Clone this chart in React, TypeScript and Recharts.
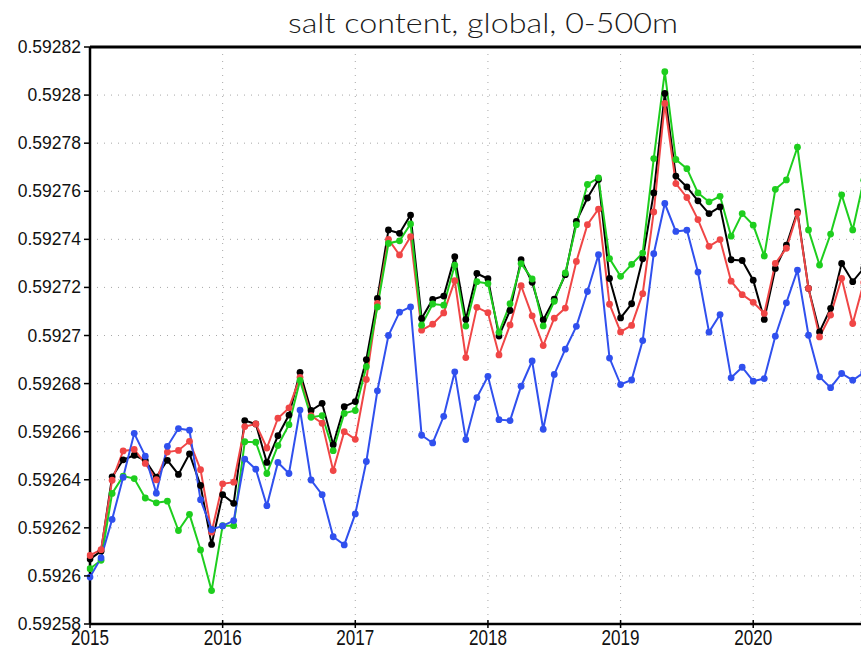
import React from 'react';
import { LineChart, Line, XAxis, YAxis, CartesianGrid, ReferenceLine } from 'recharts';

// Monthly values, Jan 2015 onwards (salt content, global, 0-500m)
const blackSeries = [
  0.592607, 0.5926103, 0.5926412, 0.5926483, 0.5926502, 0.5926481, 0.5926411, 0.5926481, 0.5926422, 0.5926508, 0.5926376, 0.5926131,
  0.5926338, 0.5926302, 0.5926646, 0.5926632, 0.5926472, 0.5926583, 0.5926669, 0.5926847, 0.5926688, 0.5926718, 0.5926546, 0.5926704,
  0.5926725, 0.59269, 0.5927154, 0.5927439, 0.5927425, 0.5927501, 0.5927071, 0.592715, 0.5927164, 0.5927328, 0.5927067, 0.5927258,
  0.5927236, 0.5926998, 0.5927104, 0.5927315, 0.5927221, 0.5927065, 0.5927151, 0.5927253, 0.5927475, 0.5927572, 0.5927649, 0.5927237,
  0.5927073, 0.5927132, 0.5927319, 0.5927593, 0.5928007, 0.5927663, 0.5927618, 0.592756, 0.5927507, 0.5927535, 0.5927315, 0.5927312,
  0.592723, 0.5927067, 0.5927279, 0.5927376, 0.5927515, 0.5927196, 0.5927015, 0.5927113, 0.59273, 0.5927224, 0.592728,
];
const redSeries = [
  0.5926085, 0.5926109, 0.5926398, 0.592652, 0.5926526, 0.5926468, 0.59264, 0.5926515, 0.5926522, 0.592656, 0.5926442, 0.5926182,
  0.5926383, 0.592639, 0.5926621, 0.5926632, 0.5926532, 0.5926656, 0.5926699, 0.5926826, 0.5926667, 0.5926635, 0.5926438, 0.59266,
  0.5926568, 0.5926817, 0.5927133, 0.59274, 0.5927335, 0.5927411, 0.5927022, 0.5927047, 0.5927094, 0.5927228, 0.5926908, 0.5927117,
  0.5927095, 0.5926919, 0.5927044, 0.5927207, 0.5927082, 0.5926958, 0.5927072, 0.5927114, 0.5927308, 0.5927461, 0.5927526, 0.592713,
  0.5927015, 0.5927042, 0.5927174, 0.5927514, 0.5927965, 0.5927632, 0.5927574, 0.5927482, 0.5927371, 0.5927399, 0.5927226, 0.592717,
  0.5927138, 0.5927092, 0.59273, 0.5927363, 0.5927508, 0.5927196, 0.5926994, 0.5927085, 0.5927238, 0.592705, 0.592722,
];
const greenSeries = [
  0.592603, 0.5926065, 0.5926343, 0.5926415, 0.5926405, 0.5926324, 0.5926304, 0.5926311, 0.5926189, 0.5926256, 0.5926108, 0.5925939,
  0.5926209, 0.5926209, 0.5926558, 0.5926556, 0.5926426, 0.5926542, 0.5926629, 0.5926813, 0.592666, 0.5926667, 0.5926521, 0.5926676,
  0.5926688, 0.592687, 0.5927119, 0.5927383, 0.5927394, 0.5927464, 0.5927043, 0.5927131, 0.5927126, 0.5927293, 0.5927039, 0.5927224,
  0.5927216, 0.5927013, 0.5927132, 0.5927299, 0.5927235, 0.592704, 0.5927142, 0.592726, 0.5927461, 0.5927628, 0.5927656, 0.592732,
  0.5927246, 0.5927296, 0.5927343, 0.5927736, 0.5928097, 0.5927732, 0.5927694, 0.5927593, 0.5927556, 0.5927579, 0.5927413, 0.5927507,
  0.5927459, 0.5927331, 0.5927608, 0.5927647, 0.5927783, 0.5927439, 0.5927293, 0.5927422, 0.5927585, 0.5927439, 0.5927646,
];
const blueSeries = [
  0.5925995, 0.5926075, 0.5926235, 0.592641, 0.5926593, 0.5926498, 0.5926344, 0.5926539, 0.5926613, 0.5926606, 0.5926317, 0.5926193,
  0.5926208, 0.592623, 0.5926486, 0.5926444, 0.5926292, 0.5926472, 0.5926426, 0.592669, 0.5926399, 0.5926338, 0.5926163, 0.5926129,
  0.5926258, 0.5926476, 0.592677, 0.5927, 0.5927097, 0.5927119, 0.5926585, 0.5926553, 0.5926664, 0.5926849, 0.5926567, 0.5926742,
  0.592683, 0.592665, 0.5926646, 0.5926789, 0.5926894, 0.592661, 0.5926838, 0.5926943, 0.5927038, 0.5927183, 0.5927336, 0.5926906,
  0.5926796, 0.5926815, 0.5926979, 0.592734, 0.5927549, 0.5927433, 0.5927438, 0.5927264, 0.5927014, 0.5927087, 0.5926824, 0.5926868,
  0.592681, 0.5926821, 0.5926997, 0.5927136, 0.5927272, 0.5927001, 0.5926828, 0.5926783, 0.5926842, 0.5926814, 0.5926846,
];

const yearLabels = ['2015', '2016', '2017', '2018', '2019', '2020'];
const yTicks = [0.59258, 0.5926, 0.59262, 0.59264, 0.59266, 0.59268, 0.5927, 0.59272, 0.59274, 0.59276, 0.59278, 0.5928, 0.59282];
const titleText = 'salt content, global, 0-500m';

const COLORS = { black: '#000000', red: '#f04646', green: '#1ece1e', blue: '#3050ee' };

const data = blackSeries.map((v, i) => ({
  t: i,
  black: v,
  red: redSeries[i],
  green: greenSeries[i],
  blue: blueSeries[i],
}));

const xTickValues = yearLabels.map((_, k) => k * 12);

const XTick = (props: any) => {
  const { x, y, payload } = props;
  const idx = Math.round(payload.value / 12);
  return (
    <g>
      <line x1={x} x2={x} y1={y - 4} y2={y + 4} stroke="#000" strokeWidth={1.5} />
      <text
        x={x}
        y={y + 20.5}
        textAnchor="middle"
        fontFamily="Liberation Sans, Arial, sans-serif"
        fontSize={22}
        textLength={38}
        lengthAdjust="spacingAndGlyphs"
        fill="#111"
      >
        {yearLabels[idx]}
      </text>
    </g>
  );
};

const YTick = (props: any) => {
  const { x, y, payload } = props;
  const label = parseFloat(Number(payload.value).toFixed(5)).toString();
  return (
    <g>
      <line x1={x - 6} x2={x} y1={y} y2={y} stroke="#000" strokeWidth={1.5} />
      <text
        x={x - 9}
        y={y + 6}
        textAnchor="end"
        fontFamily="Liberation Sans, Arial, sans-serif"
        fontSize={17.5}
        fill="#111"
      >
        {label}
      </text>
    </g>
  );
};

const dotStyle = (c: string) => ({ r: 3.4, fill: c, stroke: c, strokeWidth: 0, clipDot: false });

export default function App() {
  return (
    <div style={{ position: 'absolute', left: 0, top: 0, width: 861, height: 649, overflow: 'hidden', background: '#fff' }}>
      <LineChart width={861} height={649} data={data} margin={{ top: 47, right: 0, bottom: 0, left: 0 }}>
        <CartesianGrid stroke="#a8a8a8" strokeDasharray="1 6" strokeWidth={1} />
        <XAxis
          dataKey="t"
          type="number"
          domain={[0, 69.75]}
          allowDataOverflow
          ticks={xTickValues}
          tick={<XTick />}
          tickLine={false}
          tickSize={0}
          tickMargin={0}
          axisLine={{ stroke: '#000', strokeWidth: 2.5 }}
          height={25}
          interval={0}
        />
        <YAxis
          type="number"
          domain={[0.59258, 0.59282]}
          allowDataOverflow
          ticks={yTicks}
          tick={<YTick />}
          tickLine={false}
          tickSize={0}
          tickMargin={0}
          axisLine={{ stroke: '#000', strokeWidth: 2.5 }}
          width={90}
          interval={0}
        />
        <ReferenceLine y={0.59282} stroke="#000" strokeWidth={3} />
        <Line type="linear" dataKey="black" stroke={COLORS.black} strokeWidth={2} dot={dotStyle(COLORS.black)} activeDot={false} isAnimationActive={false} />
        <Line type="linear" dataKey="red" stroke={COLORS.red} strokeWidth={2} dot={dotStyle(COLORS.red)} activeDot={false} isAnimationActive={false} />
        <Line type="linear" dataKey="green" stroke={COLORS.green} strokeWidth={2} dot={dotStyle(COLORS.green)} activeDot={false} isAnimationActive={false} />
        <Line type="linear" dataKey="blue" stroke={COLORS.blue} strokeWidth={2} dot={dotStyle(COLORS.blue)} activeDot={false} isAnimationActive={false} />
      </LineChart>
      <svg width={861} height={47} style={{ position: 'absolute', left: 0, top: 0 }}>
        <text
          x={483}
          y={33}
          textAnchor="middle"
          fontFamily="Lato, Liberation Sans, sans-serif"
          fontWeight={300}
          fontSize={28}
          textLength={390}
          lengthAdjust="spacingAndGlyphs"
          fill="#1a1a1a"
        >
          {titleText}
        </text>
      </svg>
    </div>
  );
}
